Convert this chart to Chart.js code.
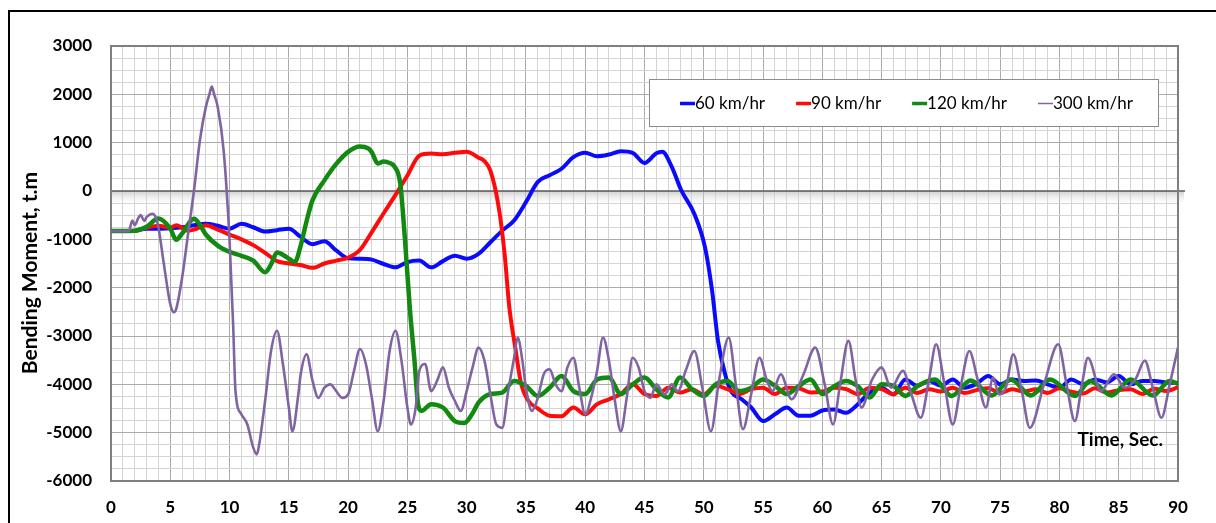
<!DOCTYPE html>
<html>
<head>
<meta charset="utf-8">
<script src="https://cdn.jsdelivr.net/npm/chart.js@4.4.1/dist/chart.umd.min.js"></script>
<style>
    html, body { margin: 0; padding: 0; background: #fff; overflow: hidden; }
    #wrap { position: relative; width: 1216px; height: 523px; }
    #frame { position: absolute; left: 8px; top: 10px; width: 1300px; height: 600px; border: 2px solid #000; pointer-events: none; }
</style>
</head>
<body>
<div id="wrap">
    <canvas id="momentChart" width="1216" height="523"></canvas>
    <div id="frame"></div>
</div>
<script>
    // Series names (legend)
    const seriesNames = ['60 km/hr', '90 km/hr', '120 km/hr', '300 km/hr'];

    // Tick labels
    const xTickValues = [0, 5, 10, 15, 20, 25, 30, 35, 40, 45, 50, 55, 60, 65, 70, 75, 80, 85, 90];
    const xTickLabels = ['0', '5', '10', '15', '20', '25', '30', '35', '40', '45', '50', '55', '60', '65', '70', '75', '80', '85', '90'];
    const yTickValues = [3000, 2000, 1000, 0, -1000, -2000, -3000, -4000, -5000, -6000];
    const yTickLabels = ['3000', '2000', '1000', '0', '-1000', '-2000', '-3000', '-4000', '-5000', '-6000'];

    // 60 km/hr
    const time60 = [0, 1, 2, 3, 4, 5, 6, 7, 8, 9, 10, 11, 12, 13, 14, 15, 16, 17, 18, 19, 20, 21, 22, 23, 24, 25, 26, 27, 28, 29,
        30, 31, 32, 33, 34, 35, 36, 37, 38, 39, 40, 41, 42, 43, 44, 45, 46, 46.5, 47.3, 48.1, 49.2, 50.1, 50.7, 51.2, 51.8, 52.3, 53.2,
        54, 55, 56, 57, 58, 59, 60, 61, 62, 63, 64, 65, 66, 67, 68, 69, 70, 71, 72, 73, 74, 75, 76, 77, 78, 79, 80, 81, 82, 83, 84,
        85, 86, 87, 88, 89, 90];
    const moment60 = [-830, -830, -820, -780, -780, -770, -750, -710, -680, -720, -780, -680, -750, -840, -810, -780, -950, -1100,
        -1040, -1230, -1390, -1400, -1420, -1510, -1580, -1470, -1440, -1580, -1450, -1340, -1400, -1300, -1060, -820, -610, -230,
        190, 325, 460, 700, 790, 720, 755, 820, 790, 580, 780, 810, 500, 15, -470, -1160, -2060, -3100, -3790, -4140, -4310,
        -4480, -4760, -4620, -4480, -4650, -4650, -4540, -4520, -4590, -4410, -4170, -4070, -4210, -3900, -4030, -3930, -4030,
        -3900, -4070, -3990, -3830, -4000, -3900, -3930, -3920, -4000, -4070, -3900, -4000, -3900, -3960, -3830, -4000, -3930,
        -3930, -3960, -3970];

    // 90 km/hr
    const time90 = [0, 1, 2, 3, 4, 5, 5.5, 6.5, 7, 8, 9, 10, 11, 12, 13, 14, 15, 16, 17, 18, 19, 20, 21, 22, 23, 24, 25, 26, 27,
        28, 29, 30, 31, 31.5, 32, 32.7, 33.2, 33.6, 34.1, 34.6, 35.2, 36, 37, 38, 39, 40, 41, 42, 43, 44, 45, 46, 47, 48, 49, 50,
        51, 52, 53, 54, 55, 56, 57, 58, 59, 60, 61, 62, 63, 64, 65, 66, 67, 68, 69, 70, 71, 72, 73, 74, 75, 76, 77, 78, 79, 80,
        81, 82, 83, 84, 85, 86, 87, 88, 89, 90];
    const moment90 = [-830, -830, -825, -760, -720, -760, -710, -820, -800, -710, -800, -900, -1000, -1120, -1280, -1450, -1500,
        -1530, -1590, -1500, -1440, -1380, -1220, -850, -460, -80, 320, 730, 775, 760, 790, 810, 690, 620, 420, -330, -1300,
        -2410, -3240, -4000, -4340, -4500, -4650, -4660, -4480, -4620, -4410, -4310, -4200, -4000, -4200, -4240, -4070, -4170,
        -4100, -4210, -4030, -4100, -4200, -4100, -4070, -4200, -4070, -4080, -4170, -4150, -4070, -4100, -4200, -4070, -4100,
        -4200, -4070, -4180, -4100, -4150, -4070, -4180, -4120, -4080, -4180, -4100, -4150, -4100, -4180, -4080, -4150, -4190,
        -4080, -4170, -4120, -4100, -4200, -4090, -4140, -4060];

    // 120 km/hr
    const time120 = [0, 1, 2, 2.5, 3, 4, 5, 5.5, 6, 7, 7.5, 8, 9, 10, 11, 12, 13, 13.5, 14, 15, 15.5, 16, 16.5, 17, 18, 19, 20,
        21, 21.7, 22, 22.5, 23, 23.5, 23.9, 24.4, 24.8, 25.2, 25.6, 25.9, 26.2, 27, 28, 29, 29.8, 30.5, 31, 32, 33, 34, 35, 36, 37,
        38, 39, 40, 41, 42, 43, 44, 45, 46, 47, 48, 49, 50, 51, 52, 53, 54, 55, 56, 57, 58, 59, 60, 61, 62, 63, 64, 65, 66, 67,
        68, 69.5, 70.9, 72.5, 74.3, 75.9, 77.6, 79.2, 81.3, 82.6, 84.4, 86, 87.9, 89.3, 90];
    const moment120 = [-830, -830, -825, -790, -740, -570, -780, -1010, -880, -575, -700, -900, -1130, -1260, -1340, -1440,
        -1680, -1520, -1270, -1400, -1470, -1130, -620, -190, 220, 560, 810, 920, 880, 800, 570, 610, 580, 510, 150, -1020,
        -2410, -3510, -4410, -4550, -4410, -4480, -4760, -4800, -4600, -4380, -4200, -4170, -3930, -4030, -4240, -4070, -3830,
        -4140, -4200, -3900, -3860, -4200, -4000, -3860, -4100, -4270, -3860, -4100, -4240, -4000, -3930, -4140, -4070, -3900,
        -4030, -4200, -4040, -3900, -4200, -4040, -3930, -4040, -4270, -4000, -4030, -4240, -4040, -3900, -4240, -3920, -4230,
        -3900, -4230, -3900, -4240, -3930, -4230, -3900, -4230, -3930, -3990];

    // 300 km/hr
    const time300 = [0, 1.5, 1.8, 2, 2.3, 2.5, 2.8, 3, 3.5, 3.8, 4, 4.5, 5, 5.3, 5.5, 6, 6.5, 7, 7.5, 8, 8.3, 8.5, 8.7, 9, 9.5,
        10, 10.3, 10.5, 11, 11.5, 12, 12.3, 12.5, 13, 13.5, 14, 14.5, 15, 15.3, 15.8, 16, 16.5, 17, 17.5, 18, 18.5, 19, 19.5, 20,
        20.5, 21, 21.5, 22, 22.5, 23, 23.5, 24, 24.5, 25, 25.3, 25.7, 26, 26.5, 27, 27.5, 28, 28.5, 29, 29.5, 30, 30.5, 31, 31.5,
        32, 32.5, 33, 33.5, 34, 34.3, 34.7, 35, 35.5, 36, 36.5, 37, 37.5, 38, 38.5, 39, 39.5, 40, 40.5, 41, 41.5, 42, 42.5, 43,
        43.5, 44, 44.5, 45, 45.5, 46, 46.7, 47.3, 47.8, 48.5, 49.2, 49.9, 50.6, 51.3, 52.1, 52.7, 53.3, 54, 54.7, 55.3, 55.8, 56.5,
        57.4, 58.4, 59.4, 60.2, 60.9, 61.5, 62.2, 62.8, 63.3, 64.2, 65, 65.8, 66.8, 67.5, 68.3, 69, 69.6, 70.3, 71, 71.7, 72.4,
        73.1, 73.8, 74.4, 74.9, 75.5, 76.1, 76.8, 77.5, 78.7, 79.9, 80.6, 81.3, 81.9, 82.4, 83.5, 84.6, 85.5, 86.4, 87.2, 87.9,
        88.6, 89.3, 90];
    const moment300 = [-830, -830, -610, -710, -560, -500, -620, -540, -470, -560, -750, -1580, -2340, -2510, -2440, -1790,
        -890, 10, 1050, 1740, 2000, 2160, 2000, 1740, 840, -1020, -2750, -4140, -4620, -4830, -5310, -5450, -5240, -4340, -3310,
        -2890, -3580, -4480, -4970, -4210, -3790, -3380, -3930, -4280, -4070, -4000, -4140, -4280, -4210, -3720, -3270, -3580,
        -4280, -4970, -4340, -3310, -2890, -3510, -4480, -4830, -4480, -3720, -3580, -4140, -3930, -3650, -4070, -4340, -4550,
        -4140, -3650, -3240, -3510, -4210, -4830, -4900, -4140, -3450, -3030, -3510, -4070, -4550, -4280, -3790, -3690, -4000,
        -4140, -3650, -3450, -4070, -4620, -4280, -3720, -3030, -3510, -4340, -4970, -4280, -3450, -3650, -4140, -4280, -4000,
        -4210, -4000, -4150, -3700, -3310, -4100, -4970, -3900, -3030, -4000, -4930, -4200, -3450, -3900, -4140, -3790, -4310,
        -3800, -3240, -4000, -4830, -4000, -3100, -3900, -4480, -3900, -3650, -4070, -3720, -4200, -4690, -3900, -3170, -4000,
        -4830, -4000, -3310, -3900, -4480, -3860, -4210, -4050, -3380, -4100, -4900, -4000, -3170, -4000, -4760, -4000, -3450,
        -4140, -3790, -4070, -3900, -3510, -4100, -4690, -4000, -3240];

    const seriesColors = ['#0a0aff', '#ff0a0a', '#128a12', '#8064a2'];
    const seriesWidths = [4, 4, 4.5, 2.6];

    function toPoints(times, values) {
        return times.map((t, i) => ({ x: t, y: values[i] }));
    }

    const allSeries = [
        toPoints(time60, moment60),
        toPoints(time90, moment90),
        toPoints(time120, moment120),
        toPoints(time300, moment300)
    ];
    // draw order: purple on top, then green, red, blue
    const drawOrder = [4, 3, 2, 1];

    const datasets = allSeries.map((pts, i) => ({
        label: seriesNames[i],
        data: pts,
        borderColor: seriesColors[i],
        backgroundColor: seriesColors[i],
        borderWidth: seriesWidths[i],
        pointRadius: 0,
        cubicInterpolationMode: 'monotone',
        fill: false,
        order: drawOrder[i]
    }));

    // zero line with shadow, plot border and in-plot texts
    const decorations = {
        id: 'decorations',
        beforeDatasetsDraw(chart) {
            const { ctx, chartArea } = chart;
            const y0 = chart.scales.y.getPixelForValue(0);
            ctx.save();
            const grad = ctx.createLinearGradient(0, y0, 0, y0 + 11);
            grad.addColorStop(0, 'rgba(190,190,190,0.75)');
            grad.addColorStop(1, 'rgba(230,230,230,0.15)');
            ctx.fillStyle = grad;
            ctx.fillRect(chartArea.left, y0, chartArea.right - chartArea.left + 6, 11);
            ctx.strokeStyle = '#5a5a5a';
            ctx.lineWidth = 1.5;
            ctx.beginPath();
            ctx.moveTo(chartArea.left, y0);
            ctx.lineTo(chartArea.right + 7, y0);
            ctx.stroke();
            ctx.strokeStyle = '#7f7f7f';
            ctx.lineWidth = 2;
            ctx.strokeRect(chartArea.left, chartArea.top, chartArea.right - chartArea.left, chartArea.bottom - chartArea.top);
            ctx.restore();
        },
        afterDraw(chart) {
            const { ctx, chartArea } = chart;
            ctx.save();
            // y axis title
            ctx.translate(30, 273);
            ctx.rotate(-Math.PI / 2);
            ctx.font = 'bold 21px Lato';
            ctx.fillStyle = '#000';
            ctx.textAlign = 'center';
            ctx.textBaseline = 'middle';
            ctx.fillText('Bending Moment, t.m', 0, 0);
            ctx.restore();

            ctx.save();
            ctx.font = 'bold 19px Lato';
            ctx.fillStyle = '#000';
            ctx.textAlign = 'right';
            ctx.textBaseline = 'middle';
            ctx.fillText('Time, Sec.', chartArea.right - 15, 440);
            ctx.restore();

            // legend box
            ctx.save();
            const bx = 649, by = 79, bw = 509, bh = 47;
            ctx.fillStyle = '#fff';
            ctx.fillRect(bx, by, bw, bh);
            ctx.strokeStyle = '#8c8c8c';
            ctx.lineWidth = 1;
            ctx.strokeRect(bx + 0.5, by + 0.5, bw, bh);
            ctx.font = '17px Lato';
            ctx.textBaseline = 'middle';
            ctx.textAlign = 'left';
            let x = 680;
            const cy = by + bh / 2 + 1;
            chart.data.datasets.forEach((ds, i) => {
                ctx.strokeStyle = ds.borderColor;
                ctx.lineWidth = i === 3 ? 1.5 : 3.5;
                ctx.beginPath();
                ctx.moveTo(x, cy);
                ctx.lineTo(x + 15, cy);
                ctx.stroke();
                ctx.fillStyle = '#000';
                ctx.fillText(ds.label, x + 15, cy);
                x += 15 + ctx.measureText(ds.label).width + 31;
            });
            ctx.restore();
        }
    };

    const canvas = document.getElementById('momentChart');
    new Chart(canvas, {
        type: 'line',
        data: { datasets: datasets },
        options: {
            responsive: false,
            animation: false,
            layout: { padding: { left: 0, right: 38, top: 46, bottom: 0 } },
            plugins: {
                legend: { display: false },
                tooltip: { enabled: false }
            },
            scales: {
                x: {
                    type: 'linear',
                    min: 0,
                    max: 90,
                    afterFit: (scale) => { scale.height = 42; },
                    ticks: {
                        stepSize: 1,
                        autoSkip: false,
                        maxRotation: 0,
                        padding: 16,
                        color: '#000',
                        font: { family: 'Lato', size: 17, weight: 'bold' },
                        callback: (value) => {
                            const i = xTickValues.indexOf(value);
                            return i >= 0 ? xTickLabels[i] : '';
                        }
                    },
                    grid: {
                        drawTicks: false,
                        color: (c) => (c.tick && c.tick.value % 5 === 0) ? '#aaaaaa' : '#d4d4d4',
                        lineWidth: 1
                    },
                    border: { color: '#7f7f7f', width: 2 }
                },
                y: {
                    type: 'linear',
                    min: -6000,
                    max: 3000,
                    afterFit: (scale) => { scale.width = 111; },
                    ticks: {
                        stepSize: 250,
                        autoSkip: false,
                        padding: 19,
                        color: '#000',
                        font: { family: 'Lato', size: 17, weight: 'bold' },
                        callback: (value) => {
                            const i = yTickValues.indexOf(value);
                            return i >= 0 ? yTickLabels[i] : '';
                        }
                    },
                    grid: {
                        drawTicks: false,
                        color: (c) => (c.tick && c.tick.value % 1000 === 0) ? '#aaaaaa' : '#d4d4d4',
                        lineWidth: 1
                    },
                    border: { color: '#7f7f7f', width: 2 }
                }
            }
        },
        plugins: [decorations]
    });
</script>
</body>
</html>
